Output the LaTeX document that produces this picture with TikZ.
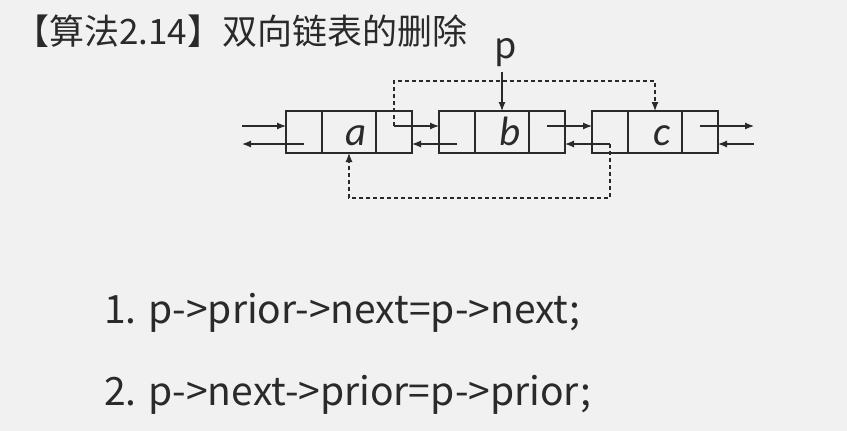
\documentclass[tikz,border=0pt]{standalone}
\usepackage{fontspec}
\setmainfont{Noto Sans CJK SC}
\newfontfamily\labfont{Carlito}
\usetikzlibrary{arrows.meta,calc}
\definecolor{bg}{HTML}{F1F1F1}
\definecolor{ink}{HTML}{2A2A2A}
\tikzset{
  fld/.style={draw=ink,line width=1.2pt,minimum height=42pt,inner sep=0pt,outer sep=0pt},
  pf/.style={fld,minimum width=36pt},
  df/.style={fld,minimum width=54pt},
  lab/.style={text=ink,inner sep=0pt,anchor=base,font=\labfont\itshape\fontsize{41}{41}\selectfont},
  arr/.style={draw=ink,line width=1.2pt,-{Latex[length=9pt,width=7pt]}},
  darr/.style={draw=ink,line width=1.2pt,dash pattern=on 4pt off 3pt,-{Latex[length=9pt,width=7pt]}},
  txt/.style={text=ink,inner sep=0pt,anchor=base west},
  code/.style={txt,font=\fontsize{39}{39}\selectfont}
}
\begin{document}
\begin{tikzpicture}[x=1pt,y=-1pt]
\fill[bg] (0,0) rectangle (847,431);
\useasboundingbox (0,0) rectangle (847,431);
% title
\node[txt,font=\fontsize{35}{35}\selectfont] (title) at (14,44) {【算法2.14】双向链表的删除};
% node a
\node[pf] (a1) at (304,132) {};
\node[df] (a2) at (349,132) {};
\node[pf] (a3) at (394,132) {};
% node b
\node[pf] (b1) at (457,132) {};
\node[df] (b2) at (502,132) {};
\node[pf] (b3) at (547,132) {};
% node c
\node[pf] (c1) at (610,132) {};
\node[df] (c2) at (655,132) {};
\node[pf] (c3) at (700,132) {};
% data labels
\node[lab] (ta) at ([xshift=7pt,yshift=-13pt]a2.center) {a};
\node[lab] (tb) at ([xshift=8pt,yshift=-13pt]b2.center) {b};
\node[lab] (tc) at ([xshift=7pt,yshift=-13pt]c2.center) {c};
% free ends
\coordinate (la) at (242,126);
\coordinate (lb) at (242,144);
\coordinate (ra) at (754,126);
\coordinate (rb) at (754,144);
\coordinate (dtop) at (500,81);
\coordinate (dbot) at (500,198);
\coordinate (pc) at (502,72);
% p label
\node[text=ink,font=\fontsize{36}{36}\selectfont,inner sep=0pt,anchor=base] (p) at (506,58) {p};
\draw[arr] (pc) -- (b2.north);
% solid links
\draw[arr] (la) -- (la -| a1.west);
\draw[arr] ([yshift=-12pt]a1.center) -- (lb);
\draw[arr] ([yshift=6pt]a3.center) -- ([yshift=6pt]b1.west);
\draw[arr] ([yshift=-12pt]b1.center) -- ([yshift=-12pt]a3.east);
\draw[arr] ([yshift=6pt]b3.center) -- ([yshift=6pt]c1.west);
\draw[arr] ([yshift=-12pt]c1.center) -- ([yshift=-12pt]b3.east);
\draw[arr] ([yshift=6pt]c3.center) -- (ra);
\draw[arr] (rb) -- ([yshift=-12pt]c3.east);
% dashed new links
\draw[darr] ([yshift=6pt]a3.center) |- (dtop) -| (c2.north);
\draw[darr] ([yshift=-12pt]c1.center) |- (dbot) -| (a2.south);
% code
\node[code] (l1) at (104,323) {1. p->prior->next=p->next;};
\node[code] (l2) at (104,405) {2. p->next->prior=p->prior;};
\end{tikzpicture}
\end{document}
